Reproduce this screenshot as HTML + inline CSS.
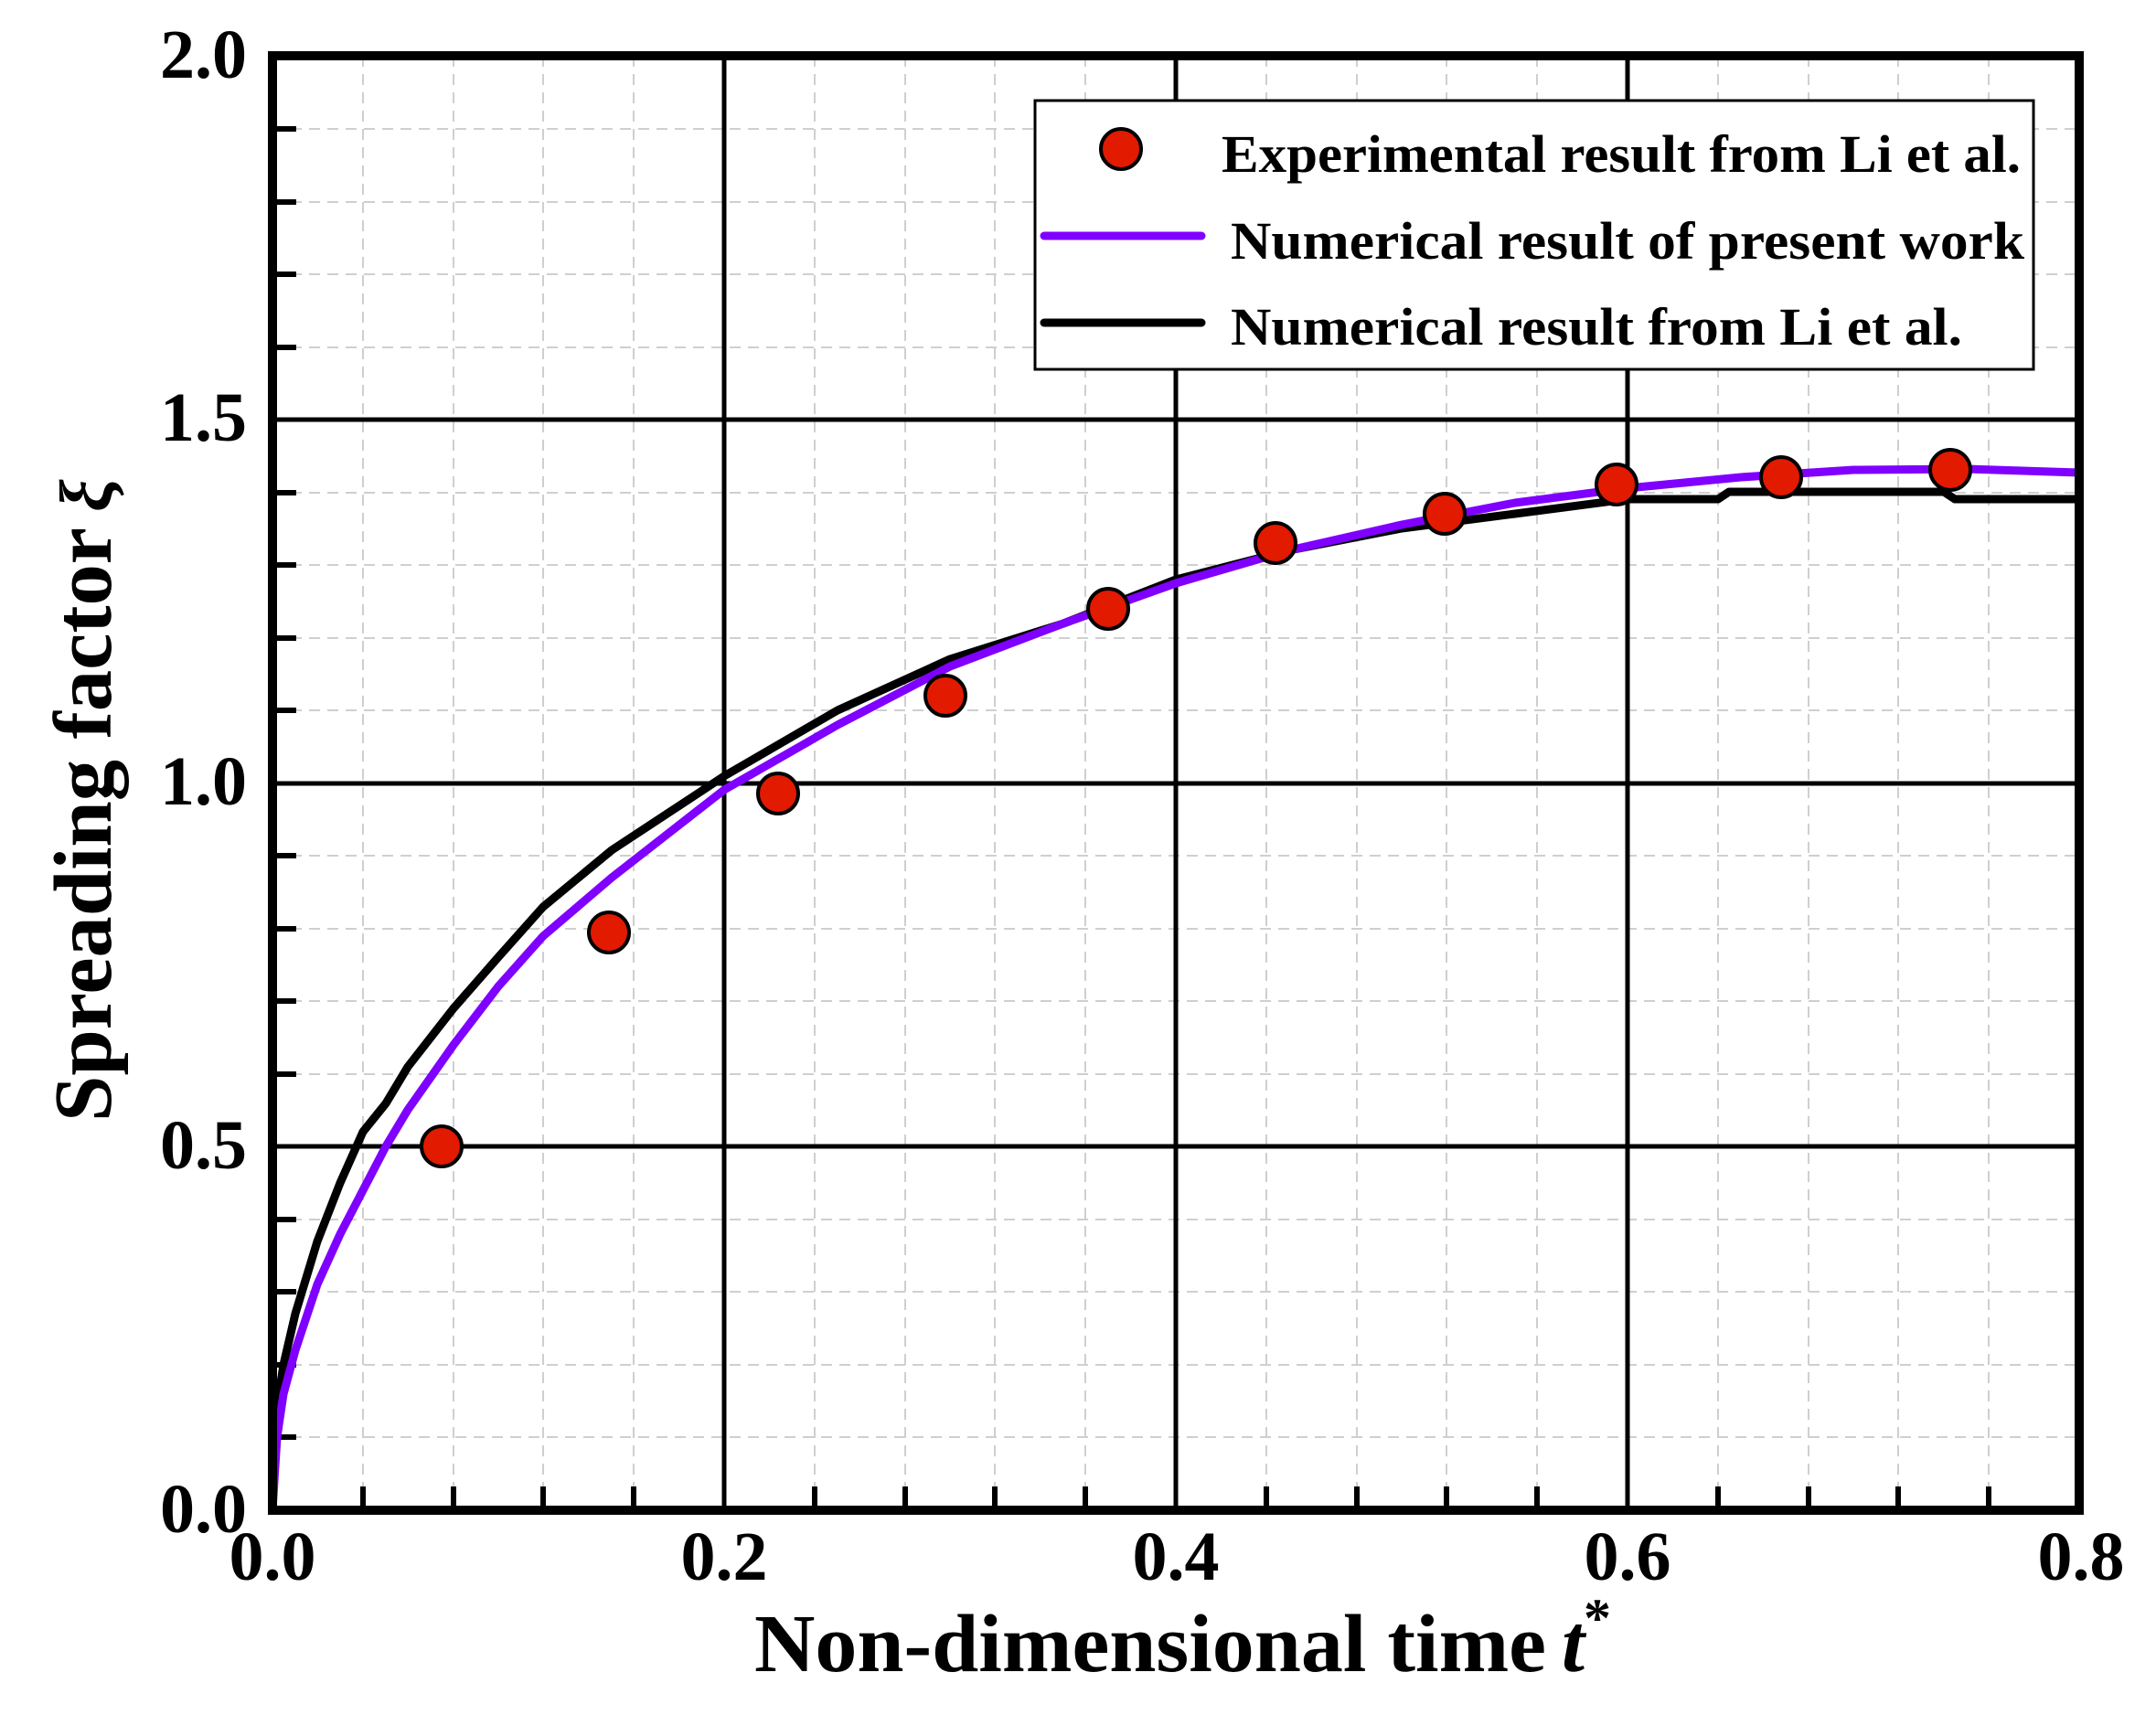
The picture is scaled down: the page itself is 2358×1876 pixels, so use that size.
<!DOCTYPE html>
<html><head><meta charset="utf-8"><style>
html,body{margin:0;padding:0;background:#fff;}
svg{display:block;}
text{font-family:"Liberation Serif",serif;font-weight:bold;fill:#000;}
</style></head><body>
<svg width="2358" height="1876" viewBox="0 0 2358 1876" xmlns="http://www.w3.org/2000/svg">
<rect width="2358" height="1876" fill="#fff"/>
<!-- minor grid -->
<g stroke="#cfcfcf" stroke-width="2" stroke-dasharray="12,8" fill="none">
<path d="M397 61V1652M496 61V1652M594 61V1652M693 61V1652M891 61V1652M990 61V1652M1088 61V1652M1187 61V1652M1385 61V1652M1484 61V1652M1582 61V1652M1681 61V1652M1879 61V1652M1978 61V1652M2076 61V1652M2175 61V1652"/>
<path d="M298 1572H2274M298 1493H2274M298 1413H2274M298 1334H2274M298 1175H2274M298 1095H2274M298 1016H2274M298 936H2274M298 777H2274M298 698H2274M298 618H2274M298 539H2274M298 380H2274M298 300H2274M298 221H2274M298 141H2274"/>
</g>
<!-- major grid -->
<g stroke="#000" stroke-width="5" fill="none">
<path d="M792 61V1652M1286 61V1652M1780 61V1652"/>
<path d="M298 1254H2274M298 857H2274M298 459H2274"/>
</g>
<!-- ticks -->
<g stroke="#000" stroke-width="6" fill="none">
<path d="M397 1652v-26M496 1652v-26M594 1652v-26M693 1652v-26M891 1652v-26M990 1652v-26M1088 1652v-26M1187 1652v-26M1385 1652v-26M1484 1652v-26M1582 1652v-26M1681 1652v-26M1879 1652v-26M1978 1652v-26M2076 1652v-26M2175 1652v-26"/>
<path d="M298 1572h26M298 1493h26M298 1413h26M298 1334h26M298 1175h26M298 1095h26M298 1016h26M298 936h26M298 777h26M298 698h26M298 618h26M298 539h26M298 380h26M298 300h26M298 221h26M298 141h26"/>
</g>
<!-- curves -->
<polyline fill="none" stroke="#000" stroke-width="9" stroke-linejoin="round" points="298,1572 310,1493 323,1437 347,1358 372,1294 397,1238 422,1207 446,1167 496,1103 545,1047 594,992 669,930 792,849 916,777 1039,721 1163,682 1286,634 1410,602 1533,578 1657,562 1780,546 1879,546 1891,538 2126,538 2138,546 2274,546"/>
<polyline fill="none" stroke="#8000ff" stroke-width="9" stroke-linejoin="round" points="298,1652 303,1572 310,1525 323,1477 347,1405 372,1350 397,1302 422,1254 446,1214 496,1143 545,1079 594,1024 669,960 792,864 916,793 1039,729 1163,682 1286,638 1410,602 1533,574 1657,550 1780,534 1904,522 2027,514 2151,513 2274,517"/>
<!-- markers -->
<g fill="#e21a00" stroke="#000" stroke-width="4">
<circle cx="483" cy="1254" r="22"/><circle cx="666" cy="1020" r="22"/><circle cx="851" cy="868" r="22"/><circle cx="1034" cy="761" r="22"/><circle cx="1212" cy="666" r="22"/><circle cx="1395" cy="594" r="22"/><circle cx="1580" cy="562" r="22"/><circle cx="1768" cy="530" r="22"/><circle cx="1948" cy="522" r="22"/><circle cx="2133" cy="514" r="22"/>
</g>
<!-- frame -->
<rect x="298" y="61" width="1976" height="1591" fill="none" stroke="#000" stroke-width="10"/>
<!-- legend -->
<rect x="1132" y="110" width="1092" height="294" fill="#fff" stroke="#000" stroke-width="3"/>
<circle cx="1226" cy="163" r="22" fill="#e21a00" stroke="#000" stroke-width="4"/>
<line x1="1142" y1="258" x2="1314" y2="258" stroke="#8000ff" stroke-width="9" stroke-linecap="round"/>
<line x1="1142" y1="353" x2="1314" y2="353" stroke="#000" stroke-width="9" stroke-linecap="round"/>
<text x="1336" y="188" font-size="58" textLength="874" lengthAdjust="spacingAndGlyphs">Experimental result from Li et al.</text>
<text x="1346" y="283" font-size="58" textLength="868" lengthAdjust="spacingAndGlyphs">Numerical result of present work</text>
<text x="1346" y="377" font-size="58" textLength="800" lengthAdjust="spacingAndGlyphs">Numerical result from Li et al.</text>
<!-- y tick labels -->
<g font-size="76" text-anchor="end">
<text x="270" y="85">2.0</text>
<text x="270" y="482">1.5</text>
<text x="270" y="880">1.0</text>
<text x="270" y="1278">0.5</text>
<text x="270" y="1676">0.0</text>
</g>
<!-- x tick labels -->
<g font-size="76" text-anchor="middle">
<text x="298" y="1728">0.0</text>
<text x="792" y="1728">0.2</text>
<text x="1286" y="1728">0.4</text>
<text x="1780" y="1728">0.6</text>
<text x="2276" y="1728">0.8</text>
</g>
<!-- axis titles -->
<text x="825" y="1828" font-size="90" textLength="866" lengthAdjust="spacingAndGlyphs">Non-dimensional time</text>
<text x="1708" y="1828" font-size="90" font-style="italic">t</text>
<text x="1732" y="1790" font-size="60">*</text>
<text transform="translate(121,1227) rotate(-90)" font-size="90" textLength="650" lengthAdjust="spacingAndGlyphs">Spreading factor</text>
<text transform="translate(121,560) rotate(-90)" font-size="80" font-style="italic" font-weight="normal">ξ</text>
</svg>
</body></html>
